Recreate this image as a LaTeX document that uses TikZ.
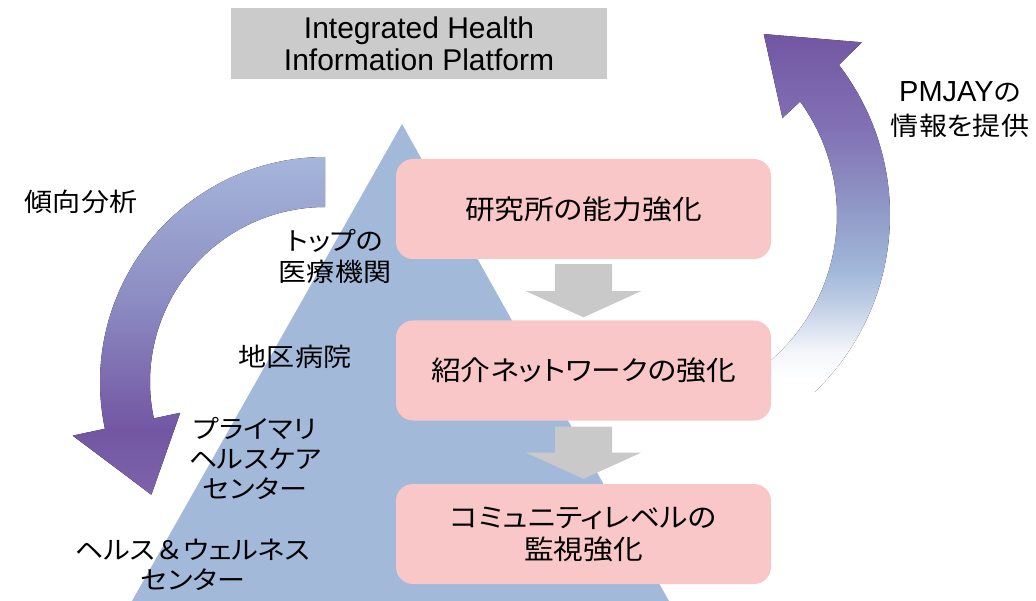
\documentclass[tikz,border=0pt]{standalone}
\usepackage{fontspec}
\setmainfont{Liberation Sans}
\newfontfamily\jp[FakeStretch=1.1,RawFeature={+palt}]{Noto Sans CJK JP}
\newfontfamily\jpfull[FakeStretch=1.1]{Noto Sans CJK JP}
\usetikzlibrary{calc}
\definecolor{tri}{HTML}{A3B9DA}
\definecolor{pinkbox}{HTML}{F9C7C8}
\definecolor{graybox}{HTML}{CBCBCB}
\definecolor{grayarr}{HTML}{C9C9C9}
\definecolor{laA}{HTML}{7B64AB}
\definecolor{laB}{HTML}{7356A3}
\definecolor{laC}{HTML}{8C8CC2}
\definecolor{laD}{HTML}{A5B6DB}
\definecolor{raZ}{HTML}{F2F5FA}
\definecolor{raA}{HTML}{DDE4F1}
\definecolor{raB}{HTML}{BCCBE4}
\definecolor{raC}{HTML}{A2B8D9}
\definecolor{raD}{HTML}{9099C7}
\definecolor{raE}{HTML}{8272B5}
\definecolor{raF}{HTML}{7356A2}
\pgfdeclareverticalshading{leftarrowshade}{100bp}{color(0bp)=(laA); color(25bp)=(laA); color(34.6bp)=(laB); color(53.8bp)=(laC); color(75bp)=(laD); color(100bp)=(laD)}
\pgfdeclareverticalshading{rightarrowshade}{100bp}{color(0bp)=(white); color(25bp)=(white); color(31.1bp)=(white); color(34.9bp)=(raZ); color(37.4bp)=(raA); color(41.2bp)=(raB); color(45bp)=(raC); color(52.7bp)=(raD); color(62.8bp)=(raE); color(75bp)=(raF); color(100bp)=(raF)}
\tikzset{
  pinkstep/.style={fill=pinkbox, rounded corners=17pt, minimum width=375pt, minimum height=100pt, align=center, inner sep=0pt, font=\jp\fontsize{27}{32}\selectfont},
  lbl/.style={align=center, inner sep=0pt, font=\jp\fontsize{25.5}{31}\selectfont},
  grayarrow/.style={fill=grayarr, draw=none},
}
\begin{document}
\begin{tikzpicture}[x=1pt,y=-1pt]
\useasboundingbox (0,0) rectangle (1036,601);
% pyramid
\begin{scope}
\clip (0,0) rectangle (1036,601);
\fill[tri] (402,124) -- (669,601) -- (132,601) -- cycle;
\end{scope}
% platform box
\node[fill=graybox, minimum width=376pt, minimum height=71pt, inner sep=0pt, align=center, font=\fontsize{30}{32}\selectfont] (platform) at (419,43.5) {Integrated Health\\Information Platform};
% left curved arrow
\begin{scope}[shift={(325,382)}]
\fill[shading=leftarrowshade] (270:225) -- plot[domain=270:168, samples=52, variable=\t] (\t:225) -- (168:258) -- (147:207) -- (168:148) -- (168:175) -- plot[domain=168:270, samples=52, variable=\t] (\t:175) -- cycle;
\end{scope}
% right curved arrow (lower end fades behind the middle box)
\begin{scope}
\clip (700,0) rectangle (1036,392);
\begin{scope}[shift={(644,215)}]
\fill[shading=rightarrowshade] (60:246) -- plot[domain=60:-37.6, samples=50, variable=\t] (\t:246) -- (-38.4:278) -- (-56.5:217) -- (-35:169) -- (-36:193) -- plot[domain=-36:60, samples=50, variable=\t] (\t:193) -- cycle;
\end{scope}
\end{scope}
% pink boxes
\node[pinkstep] (b1) at (583.5,209) {研究所の能力強化};
\node[pinkstep] (b2) at (583.5,370.5) {紹介ネットワークの強化};
\node[pinkstep] (b3) at (583.5,534) {コミュニティレベルの\\監視強化};
% gray block arrows
\fill[grayarrow] ($(b1.south)+(-28.5,5)$) -- ++(57,0) -- ++(0,27) -- ++(29,0) -- ($(b2.north)+(0,-3)$) -- ($(b1.south)+(-57.5,32)$) -- ++(29,0) -- cycle;
\fill[grayarrow] ($(b2.south)+(-28.5,6)$) -- ++(57,0) -- ++(0,26) -- ++(29,0) -- ($(b3.north)+(0,-5)$) -- ($(b2.south)+(-57.5,32)$) -- ++(29,0) -- cycle;
% labels
\node[lbl] (trend) at (81,202) {傾向分析};
\node[lbl] (top) at (335,256) {トップの\\医療機関};
\node[lbl] (dist) at (295,357) {地区病院};
\node[lbl, font=\jp\fontsize{25.5}{30}\selectfont] (phc) at (255,458) {プライマリ\\ヘルスケア\\センター};
\node[lbl, font=\jp\fontsize{25.5}{30}\selectfont] (hwc) at (193,565) {ヘルス{\jpfull ＆}ウェルネス\\センター};
\node[lbl, font=\jp\fontsize{25.5}{34}\selectfont] (pm) at (960,110) {{\fontspec{Liberation Sans}\fontsize{29}{34}\selectfont PMJAY}の\\情報を提供};
\end{tikzpicture}
\end{document}
